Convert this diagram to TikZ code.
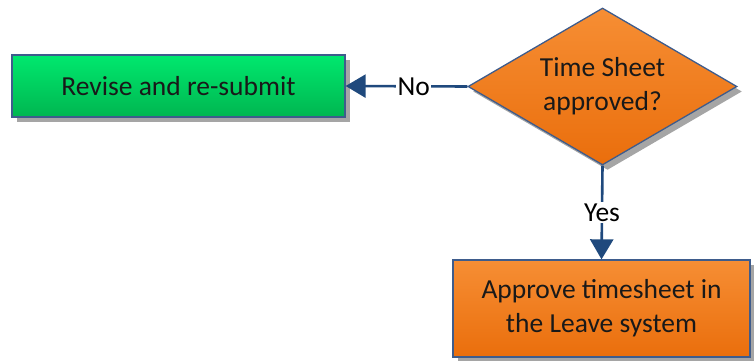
\documentclass[tikz,border=0pt]{standalone}
\usepackage{fontspec}
\setmainfont{Carlito}
\usetikzlibrary{shapes.geometric,shadows,arrows.meta}
\definecolor{borda}{RGB}{62,92,140}
\definecolor{seta}{RGB}{31,73,125}
\definecolor{sombra}{RGB}{165,165,165}
\tikzset{
	caixa/.style={draw=borda, line width=1.3pt, inner sep=0pt, align=center, text=black!90,
		font=\fontsize{27.5}{34}\selectfont,
		drop shadow={shadow xshift=5pt, shadow yshift=-5pt, fill=sombra, opacity=1}},
	verde/.style={caixa, top color={rgb,255:red,0;green,232;blue,110}, bottom color={rgb,255:red,0;green,182;blue,80}},
	laranja/.style={caixa, top color={rgb,255:red,246;green,142;blue,52}, bottom color={rgb,255:red,234;green,110;blue,12}},
	seta/.style={draw=seta, line width=2.6pt, -{Triangle[length=20pt,width=23pt]}},
	rotulo/.style={fill=white, inner sep=1.5pt, text=black, font=\fontsize{27.5}{34}\selectfont}
}
\begin{document}
\begin{tikzpicture}[x=1pt,y=1pt]
	\useasboundingbox (0,0) rectangle (754,360);
	% Caixas e decisao
	\node[verde, minimum width=333pt, minimum height=62pt] (revisar) at (178.5,274) {Revise and re-submit};
	\node[laranja, diamond, aspect=1.71, minimum width=269pt, minimum height=157pt] (decisao) at (602.5,273.5) {Time Sheet\\approved?};
	\node[laranja, minimum width=297pt, minimum height=97pt] (aprovar) at (601.5,51.5) {Approve timesheet in\\the Leave system};
	% Setas
	\draw[seta] (decisao.west) -- node[rotulo, pos=0.44] (nao) {No} (revisar.east);
	\draw[seta] (decisao.south) -- node[rotulo, pos=0.5] (sim) {Yes} (aprovar.north);
\end{tikzpicture}
\end{document}
